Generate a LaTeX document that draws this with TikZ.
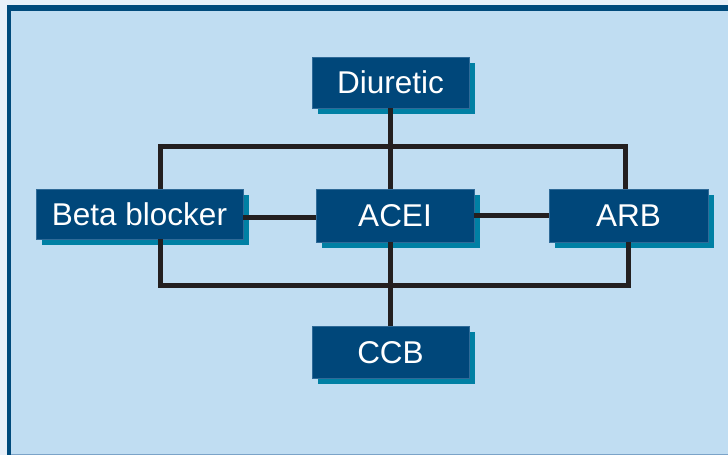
\documentclass[tikz,border=0pt]{standalone}
\usepackage{fontspec}
\setmainfont{Liberation Sans}
\usetikzlibrary{shadows}
\definecolor{outerbg}{HTML}{E8F0F9}
\definecolor{innerbg}{HTML}{C0DDF2}
\definecolor{framec}{HTML}{004A7C}
\definecolor{bottomc}{HTML}{7BA3C8}
\definecolor{boxc}{HTML}{00477A}
\definecolor{boxedge}{HTML}{2F6A98}
\definecolor{shadowc}{HTML}{0080A4}
\definecolor{linec}{HTML}{231F20}
\tikzset{
  drugbox/.style={rectangle, fill=boxc, draw=boxedge, line width=0.8pt,
    text=white, inner sep=0pt, minimum height=51pt,
    font=\fontsize{31.5}{37}\selectfont, text height=22.4pt, text depth=0pt,
    drop shadow={shadow xshift=6pt, shadow yshift=-6pt, fill=shadowc, opacity=1}},
  link/.style={draw=linec, line width=5pt}
}
\begin{document}
\begin{tikzpicture}[x=1pt,y=-1pt]
\useasboundingbox (0,0) rectangle (728,455);
\begin{scope}
\clip (0,0) rectangle (728,455);
\fill[outerbg] (0,0) rectangle (728,455);
\fill[framec] (7,5) rectangle (740,456);
\fill[innerbg] (10.5,10.5) rectangle (740,454);
\fill[bottomc] (10.5,454) rectangle (740,456);
\end{scope}

\node[drugbox, minimum width=157pt] (diu) at (390.5,82.5) {Diuretic};
\node[drugbox, minimum width=207pt, minimum height=50pt] (beta) at (139.5,214) {Beta blocker};
\node[drugbox, minimum width=158pt, minimum height=53pt] (acei) at (395,215.5) {ACEI};
\node[drugbox, minimum width=159pt, minimum height=53pt] (arb) at (628.5,215.5) {ARB};
\node[drugbox, minimum width=157pt, minimum height=52pt] (ccb) at (390.5,352) {CCB};

\coordinate (tl) at (160,146);
\coordinate (tr) at (625.5,146);
\coordinate (bl) at (160.5,285.5);
\coordinate (br) at (628,285.5);
\coordinate (mx) at (390,0);

\draw[link] (diu.south -| mx) -- (acei.north -| mx);
\draw[link] (acei.south -| mx) -- (ccb.north -| mx);
\draw[link] (tl |- beta.north) -- (tl) -- (tr) -- (tr |- arb.north);
\draw[link] (bl |- beta.south) -- (bl) -- (br) -- (br |- arb.south);
\draw[link] (beta.east |- 0,217.5) -- (acei.west |- 0,217.5);
\draw[link] (acei.east |- 0,215) -- (arb.west |- 0,215);
\end{tikzpicture}
\end{document}
